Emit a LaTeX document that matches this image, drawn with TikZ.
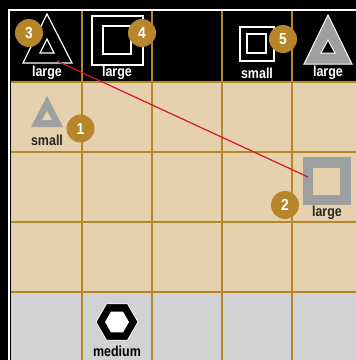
\documentclass[tikz,border=0pt]{standalone}
\usepackage{fontspec}
\setmainfont[FakeStretch=0.86]{Liberation Sans}

\definecolor{gold}{HTML}{B8862A}
\definecolor{boardtan}{HTML}{E6D1AF}
\definecolor{boardgrey}{HTML}{D1D2D4}
\definecolor{piecegrey}{HTML}{9E9FA1}
\definecolor{movered}{HTML}{D4142E}

\tikzset{
  gridline/.style={gold, line width=2pt},
  outline/.style={white, line width=1.2pt, line join=miter},
  piecelabel/.style={inner sep=0pt, font=\bfseries\fontsize{14.5}{15}\selectfont},
  badge/.style={circle, fill=gold, text=white, minimum size=28pt, inner sep=0pt,
    font=\bfseries\fontsize{16}{16}\selectfont}
}

\begin{document}
\begin{tikzpicture}[x=1pt, y=-1pt]

  \useasboundingbox (0,0) rectangle (356,360);

  % Board
  \fill[black] (0,0) rectangle (356,360);
  \draw[white, line width=2pt] (9.5,9.5) rectangle (370,370);
  \fill[boardtan]  (11,82)  rectangle (356,292);
  \fill[boardgrey] (11,292) rectangle (356,360);

  \foreach \x in {82,152,222,292}
    \draw[gridline] (\x,11) -- (\x,360);
  \foreach \y in {82,152,222,292}
    \draw[gridline] (11,\y) -- (356,\y);

  % Top row
  \draw[outline] (47,14) -- (72,63) -- (23,63) -- cycle;
  \draw[outline] (47,39) -- (54,53) -- (40,53) -- cycle;
  \node[piecelabel, text=white] (lblA) at (47,73) {large};

  \draw[outline] (92,16) rectangle (143,65);
  \draw[outline] (103,26) rectangle (131,54);
  \node[piecelabel, text=white] (lblB) at (117,73) {large};

  \draw[outline] (240,27) rectangle (274,61);
  \draw[outline] (247,34) rectangle (266,53);
  \node[piecelabel, text=white] (lblC) at (257,73) {small};

  \filldraw[piecegrey, draw=white, line width=1pt] (328,15) -- (352,64) -- (304,64) -- cycle;
  \filldraw[black, draw=white, line width=1pt] (328,40) -- (335,53) -- (321,53) -- cycle;
  \node[piecelabel, text=white] (lblD) at (328,73) {large};

  % Middle rows
  \fill[piecegrey] (47,96) -- (63,127) -- (31,127) -- cycle;
  \fill[boardtan]  (47,111) -- (52,120) -- (42,120) -- cycle;
  \node[piecelabel, text=black!85] (lblE) at (47,140) {small};

  \fill[piecegrey] (303,157) rectangle (351,205);
  \fill[boardtan]  (313.5,167.5) rectangle (340.5,194.5);
  \node[piecelabel, text=black!85] (lblF) at (327,213) {large};

  % Bottom row
  \filldraw[black, draw=white, line width=0.8pt]
    (138,322) -- (127.5,303.8) -- (106.5,303.8) -- (96,322)
    -- (106.5,340.2) -- (127.5,340.2) -- cycle;
  \fill[white] (129,322) -- (123,311.6) -- (111,311.6) -- (105,322)
    -- (111,332.4) -- (123,332.4) -- cycle;
  \node[piecelabel, text=black] (lblG) at (117,351) {medium};

  % Move
  \coordinate (from) at (57,61);
  \coordinate (to) at (308,177);
  \draw[movered, line width=1.2pt] (from) -- (to);

  % Badges
  \node[badge] (b1) at (80.5,128.5) {1};
  \node[badge] (b2) at (285,205) {2};
  \node[badge] (b3) at (29,33) {3};
  \node[badge] (b4) at (142,33) {4};
  \node[badge] (b5) at (283,39) {5};

\end{tikzpicture}
\end{document}
